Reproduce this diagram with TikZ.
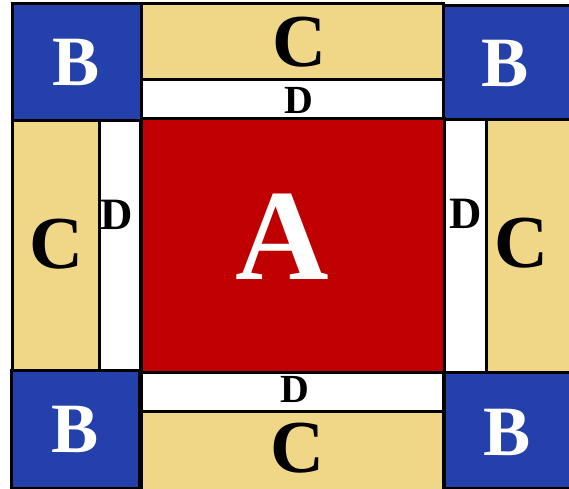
\documentclass[tikz,border=0pt]{standalone}
\usepackage{fontspec}
\setmainfont{Liberation Serif}
\definecolor{blueB}{RGB}{36,64,170}
\definecolor{tanC}{RGB}{240,214,135}
\definecolor{redA}{RGB}{192,0,0}

\begin{document}
\begin{tikzpicture}[x=1bp,y=-1bp,
  box/.style={draw=black,line width=3bp},
  lbl/.style={font=\bfseries\fontsize{#1}{#1}\selectfont,inner sep=0pt}]
  \useasboundingbox (0,0) rectangle (569,489);
  \clip (0,0) rectangle (569,489);
  % corner blocks B
  \draw[box,fill=blueB](12,4)rectangle(141,121);
  \draw[box,fill=blueB](443,6)rectangle(575,120);
  \draw[box,fill=blueB](11,370)rectangle(139,488);
  \draw[box,fill=blueB](444,372)rectangle(575,488);
  % side strips C and D
  \draw[box,fill=tanC](141,4)rectangle(443,80);
  \draw[box,fill=white](141,80)rectangle(443,119);
  \draw[box,fill=tanC](12,121)rectangle(99,370);
  \draw[box,fill=white](99,121)rectangle(140,370);
  \draw[box,fill=white](444,120)rectangle(486,372);
  \draw[box,fill=tanC](486,120)rectangle(575,372);
  \draw[box,fill=white](141,372)rectangle(443,411);
  \draw[box,fill=tanC](141,411)rectangle(443,492);
  % centre A
  \draw[box,fill=redA](141,119)rectangle(444,372);
  % labels
  \foreach \nm/\px/\py in {bTL/76/62,bTR/505/63,bBL/75/429,bBR/507/432}{
    \node[lbl=71,text=white](\nm) at (\px,\py){B};}
  \foreach \nm/\px/\py in {cT/299/42,cL/56/244,cR/521/243,cB/297/448}{
    \node[lbl=75](\nm) at (\px,\py){C};}
  \foreach \nm/\px/\py/\fs in {dT/299/100/40,dL/117/215/45,dR/466/214/45,dB/295/389/40}{
    \node[lbl=\fs](\nm) at (\px,\py){D};}
  \node[lbl=130,text=white](a) at (282,237){A};
\end{tikzpicture}
\end{document}
